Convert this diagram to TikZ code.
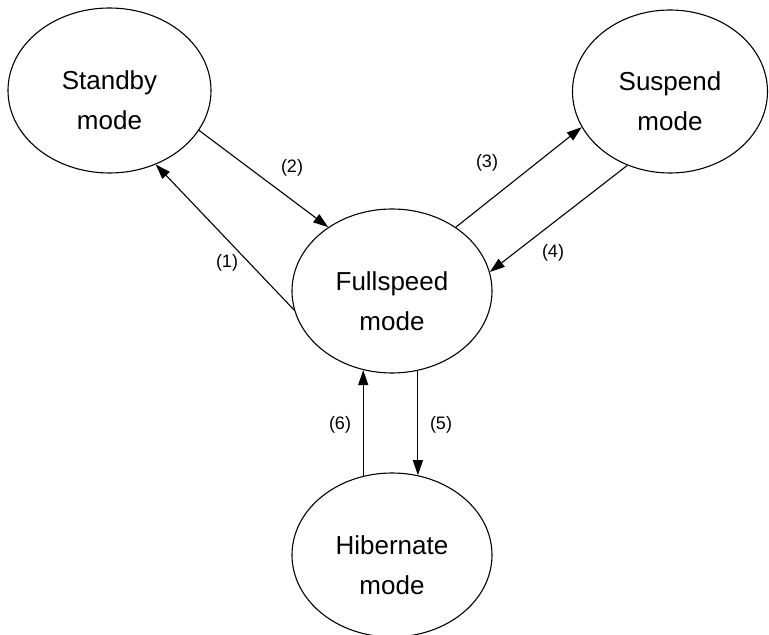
\documentclass[tikz,border=0pt]{standalone}
\usepackage{fontspec}
\setmainfont{Liberation Sans}
\usetikzlibrary{shapes.geometric,arrows.meta}

\begin{document}
\begin{tikzpicture}[x=1pt,y=1pt,
        mode/.style={draw, ellipse, line width=1.1pt, inner sep=0pt, align=center,
            minimum width=200pt, minimum height=164pt,
            font=\fontsize{26}{40}\selectfont, text height=79pt, text depth=0pt},
        trans/.style={line width=1.1pt, -{Triangle[length=15pt,width=10pt]}},
        num/.style={font=\fontsize{18}{20}\selectfont}]
            \useasboundingbox (0,0) rectangle (769,635);
            \node[mode, minimum width=203pt, minimum height=165pt] (standby) at (109.5,544.5) {Standby\\mode};
            \node[mode, minimum width=195pt, minimum height=163pt] (suspend) at (670,543.5) {Suspend\\mode};
            \node[mode] (full) at (392,344) {Fullspeed\\mode};
            \node[mode] (hibernate) at (392,80) {Hibernate\\mode};

            \draw[trans] (full.191) -- (standby.-58);
            \node[num] (n1) at (227,372) {(1)};
            \draw[trans] (standby.-24) -- (full.135);
            \node[num] (n2) at (292,467) {(2)};
            \draw[trans] (full.45) -- (suspend.202);
            \node[num] (n3) at (487,472) {(3)};
            \draw[trans] (suspend.240) -- (full.11);
            \node[num] (n4) at (553,382) {(4)};

            \draw[trans] (full.-72) -- (hibernate.72);
            \node[num] (n5) at (441,210) {(5)};
            \draw[trans] (hibernate.110) -- (full.250);
            \node[num] (n6) at (340,210) {(6)};
        \end{tikzpicture}
\end{document}
